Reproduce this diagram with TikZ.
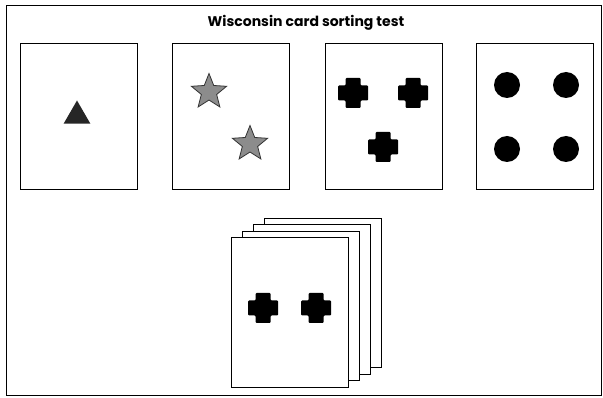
\documentclass[tikz,border=0pt]{standalone}
\usepackage{fontspec}
\newfontfamily\titolo{Poppins}
\usetikzlibrary{shapes.geometric}

\tikzset{
  carta/.style={draw, fill=white, line width=1pt, inner sep=0pt, outer sep=0pt,
    minimum width=117pt, minimum height=146pt},
  stella/.style={star, star points=5, star point ratio=2.3, minimum size=37pt,
    inner sep=0pt, draw=black!80, fill=black!45, line width=0.8pt},
  punto/.style={circle, fill=black, inner sep=0pt, minimum size=26pt},
  triangolo/.style={regular polygon, regular polygon sides=3, fill=black!85,
    inner sep=0pt, minimum size=31pt}
}
\newcommand{\croce}[1]{\fill[rounded corners=1pt] (#1) +(-15,-7.5) -- +(-7.5,-7.5) -- +(-7.5,-15)
  -- +(7.5,-15) -- +(7.5,-7.5) -- +(15,-7.5) -- +(15,7.5) -- +(7.5,7.5) -- +(7.5,15) -- +(-7.5,15)
  -- +(-7.5,7.5) -- +(-15,7.5) -- cycle;}

\begin{document}
\begin{tikzpicture}[x=1pt, y=-1pt]
  \useasboundingbox (0,0) rectangle (603,398);
  % Cornice
  \draw[line width=0.8pt] (6,5) rectangle (601,395);
  \node[font=\titolo\bfseries\fontsize{14}{16}\selectfont] (titolo) at (306,23) {Wisconsin card sorting test};

  % Carte
  \node[carta] (c1) at (78.5,116.5) {};
  \node[carta] (c2) at (230.5,116.5) {};
  \node[carta] (c3) at (383.5,116.5) {};
  \node[carta] (c4) at (534.5,116.5) {};

  % Mazzo
  \node[carta, minimum height=149pt] (m4) at (322.5,293) {};
  \node[carta, minimum height=149pt] (m3) at (311.5,299.5) {};
  \node[carta, minimum height=149pt] (m2) at (300.5,306) {};
  \node[carta, minimum height=149pt] (m1) at (289.5,312.5) {};

  % Simboli
  \node[triangolo] (t1) at (77,116) {};
  \node[stella] (s1) at (209,92) {};
  \node[stella] (s2) at (250,144) {};
  \croce{353,93}
  \croce{413,93}
  \croce{383,147}
  \node[punto] (p1) at (507,85) {};
  \node[punto] (p2) at (566,85) {};
  \node[punto] (p3) at (507,149) {};
  \node[punto] (p4) at (566,149) {};
  \croce{263,308}
  \croce{316,308}
\end{tikzpicture}
\end{document}
